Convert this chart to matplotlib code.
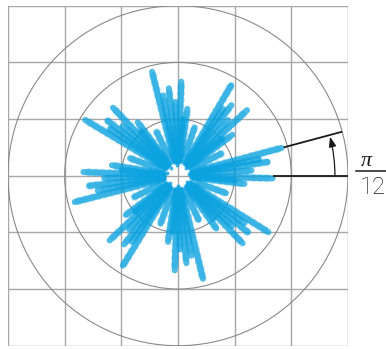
import numpy as np
import matplotlib
matplotlib.use("Agg")
import matplotlib.pyplot as plt
from matplotlib.patches import Circle, FancyArrowPatch, ArrowStyle
from matplotlib.lines import Line2D

# Rays of the star pattern: direction (degrees) and outer radius
ray_angles = [15.0, 11.5, 8.7, 4.0, -1.6, -4.5, -7.0,
              59.5, 56.0, 52.9, 48.0, 43.5, 40.0, 37.0,
              104.0, 100.5, 96.0, 92.0, 88.0, 85.0, 82.0,
              149.0, 145.5, 142.0, 138.0, 133.7, 130.0, 127.0,
              194.3, 190.5, 186.5, 182.0, 177.8, 174.5, 171.0,
              238.5, 235.0, 231.9, 227.5, 223.4, 220.0, 217.0,
              283.6, 279.5, 275.5, 271.5, 268.0, 264.5, 261.4,
              328.0, 324.5, 321.0, 317.0, 313.7, 310.0, 306.0]
ray_lengths = [1.89, 1.45, 1.60, 1.30, 1.67, 1.00, 1.18,
               1.85, 1.42, 1.56, 1.32, 1.68, 1.02, 1.20,
               1.89, 1.44, 1.55, 1.30, 1.66, 1.00, 1.19,
               1.91, 1.45, 1.57, 1.31, 1.66, 1.02, 1.18,
               1.88, 1.44, 1.57, 1.30, 1.67, 1.00, 1.18,
               1.86, 1.42, 1.54, 1.28, 1.66, 0.98, 1.15,
               1.87, 1.43, 1.55, 1.30, 1.67, 1.00, 1.18,
               1.88, 1.44, 1.58, 1.30, 1.65, 0.98, 1.15]
ray_start = 0.27

# Short rays filling the gaps between bundles near the origin
short_angles = [27.0, 71.0, 116.0, 160.0, 206.0, 250.0, 295.0, 340.0]
short_lengths = [0.85, 0.9, 0.85, 0.9, 0.85, 0.9, 0.85, 0.9]

# Small dots ringing the origin
dot_angles = [9.0, 44.0, 97.0, 132.0, 168.0, 224.0, 272.0, 325.0]
dot_radius = 0.19

# Reference circles and the marked angle
circle_radii = [1, 2, 3]
angle_mark = 15.0
mark_lines = [(0.0, 1.67, 3.0), (angle_mark, 1.93, 3.0)]
arc_radius = 2.77

blue = "#0BA2E0"

fig = plt.figure(figsize=(3.86, 3.49), dpi=100)
ax = fig.add_axes([8 / 386, 3.3 / 349, 340 / 386, 340 / 349])
ax.set_xlim(-3, 3)
ax.set_ylim(-3, 3)
ax.set_aspect("equal")
ax.axis("off")

# square grid
for v in range(-3, 4):
    ax.plot([v, v], [-3, 3], color="#a8a8a8", lw=1.0, zorder=1)
    ax.plot([-3, 3], [v, v], color="#a8a8a8", lw=1.0, zorder=1)

for r in circle_radii:
    ax.add_patch(Circle((0, 0), r, fill=False, ec="#8a8a8a", lw=0.8, zorder=2))


def draw_ray(a, r0, r1):
    t = np.deg2rad(a)
    xs = [r0 * np.cos(t), r1 * np.cos(t)]
    ys = [r0 * np.sin(t), r1 * np.sin(t)]
    ax.plot(xs, ys, color=blue, lw=4.4, alpha=0.72, solid_capstyle="round", zorder=3)
    ax.plot(xs, ys, color=blue, lw=6.0, alpha=0.3, dash_capstyle="round",
            linestyle=(0, (0.05, 0.75)), zorder=3)


for a, L in zip(ray_angles, ray_lengths):
    draw_ray(a, ray_start, L)
for a, L in zip(short_angles, short_lengths):
    draw_ray(a, ray_start + 0.1, L)

dt = np.deg2rad(dot_angles)
ax.scatter(dot_radius * np.cos(dt), dot_radius * np.sin(dt), s=8, color=blue,
           alpha=0.8, lw=0, zorder=4)

# angle marker
for a, r0, r1 in mark_lines:
    t = np.deg2rad(a)
    ax.plot([r0 * np.cos(t), r1 * np.cos(t)], [r0 * np.sin(t), r1 * np.sin(t)],
            color="#1a1a1a", lw=1.3, solid_capstyle="butt", zorder=5, clip_on=False)

t_end = np.deg2rad(angle_mark - 0.6)
arrow = FancyArrowPatch((arc_radius, 0.0),
                        (arc_radius * np.cos(t_end), arc_radius * np.sin(t_end)),
                        connectionstyle="arc3,rad=0.06",
                        arrowstyle=ArrowStyle("-|>", head_length=0.6, head_width=0.22),
                        mutation_scale=10, color="#1a1a1a", lw=0.9,
                        shrinkA=0, shrinkB=0, zorder=5)
ax.add_patch(arrow)

# fraction label
fig.text(366 / 386, 1 - 161 / 349, "π", fontsize=16, family="Liberation Serif",
         style="italic", ha="center", va="center", color="#1a1a1a")
fig.add_artist(Line2D([356 / 386, 386 / 386], [1 - 171 / 349, 1 - 171 / 349],
                      color="#1a1a1a", lw=1.1, transform=fig.transFigure))
fig.text(373 / 386, 1 - 188 / 349, "12", fontsize=17, family=["Roboto", "DejaVu Sans"],
         weight="light", ha="center", va="center", color="#1a1a1a")

fig.savefig("out.png", dpi=100)
